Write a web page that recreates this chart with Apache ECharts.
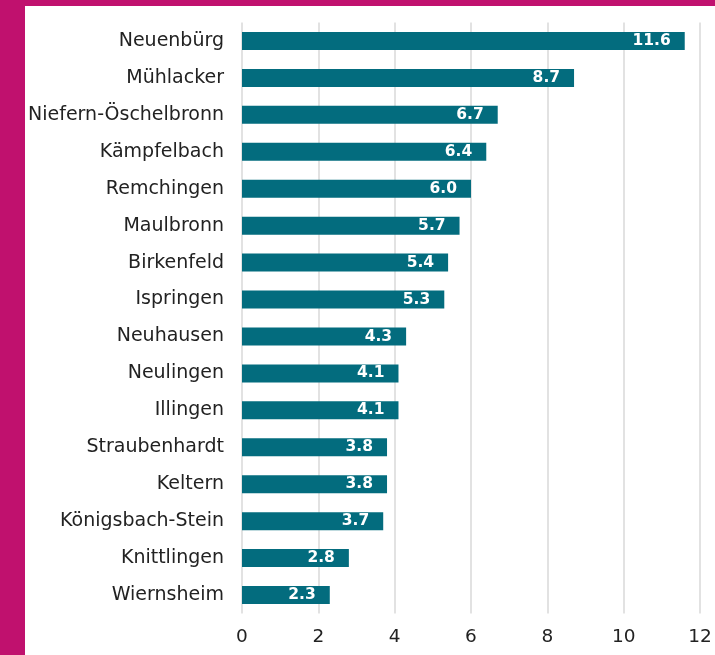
<!DOCTYPE html>
<html><head><meta charset="utf-8">
<script src="https://cdn.jsdelivr.net/npm/echarts@6/dist/echarts.min.js"></script>
<style>
html,body{margin:0;padding:0;background:#c0116e;}
#frame{position:absolute;left:25px;top:6px;width:690px;height:649px;background:#fff;}
#chart{position:absolute;left:0;top:0;width:715px;height:655px;}
</style></head>
<body>
<div id="frame"></div>
<div id="chart"></div>
<script>
const categories = ["Neuenbürg","Mühlacker","Niefern-Öschelbronn","Kämpfelbach","Remchingen","Maulbronn","Birkenfeld","Ispringen","Neuhausen","Neulingen","Illingen","Straubenhardt","Keltern","Königsbach-Stein","Knittlingen","Wiernsheim"];
const values = [11.6,8.7,6.7,6.4,6.0,5.7,5.4,5.3,4.3,4.1,4.1,3.8,3.8,3.7,2.8,2.3];
const xTicks = [0,2,4,6,8,10,12];

const chart = echarts.init(document.getElementById('chart'), null, {renderer:'canvas'});
const font = '"DejaVu Sans", sans-serif';
chart.setOption({
  animation:false,
  grid:{left:242,right:15,top:22.5,bottom:41.5,containLabel:false},
  xAxis:{type:'value',min:xTicks[0],max:xTicks[xTicks.length-1],interval:2,
    axisLine:{show:false},axisTick:{show:false},
    axisLabel:{color:'#222',fontSize:18.5,fontFamily:font,margin:14},
    splitLine:{show:true,lineStyle:{color:'#d9d9d9',width:1.5}}},
  yAxis:{type:'category',data:categories,inverse:true,
    axisLine:{show:false},axisTick:{show:false},
    axisLabel:{color:'#222',fontSize:19,fontFamily:font,margin:18}},
  series:[{type:'bar',data:values,barWidth:18,
    itemStyle:{color:'#036c7e'},
    label:{show:true,position:'insideRight',distance:14,color:'#fff',fontWeight:'bold',fontSize:15.5,fontFamily:font,
      formatter:p=>p.value.toFixed(1)}}]
});
</script>
</body></html>
